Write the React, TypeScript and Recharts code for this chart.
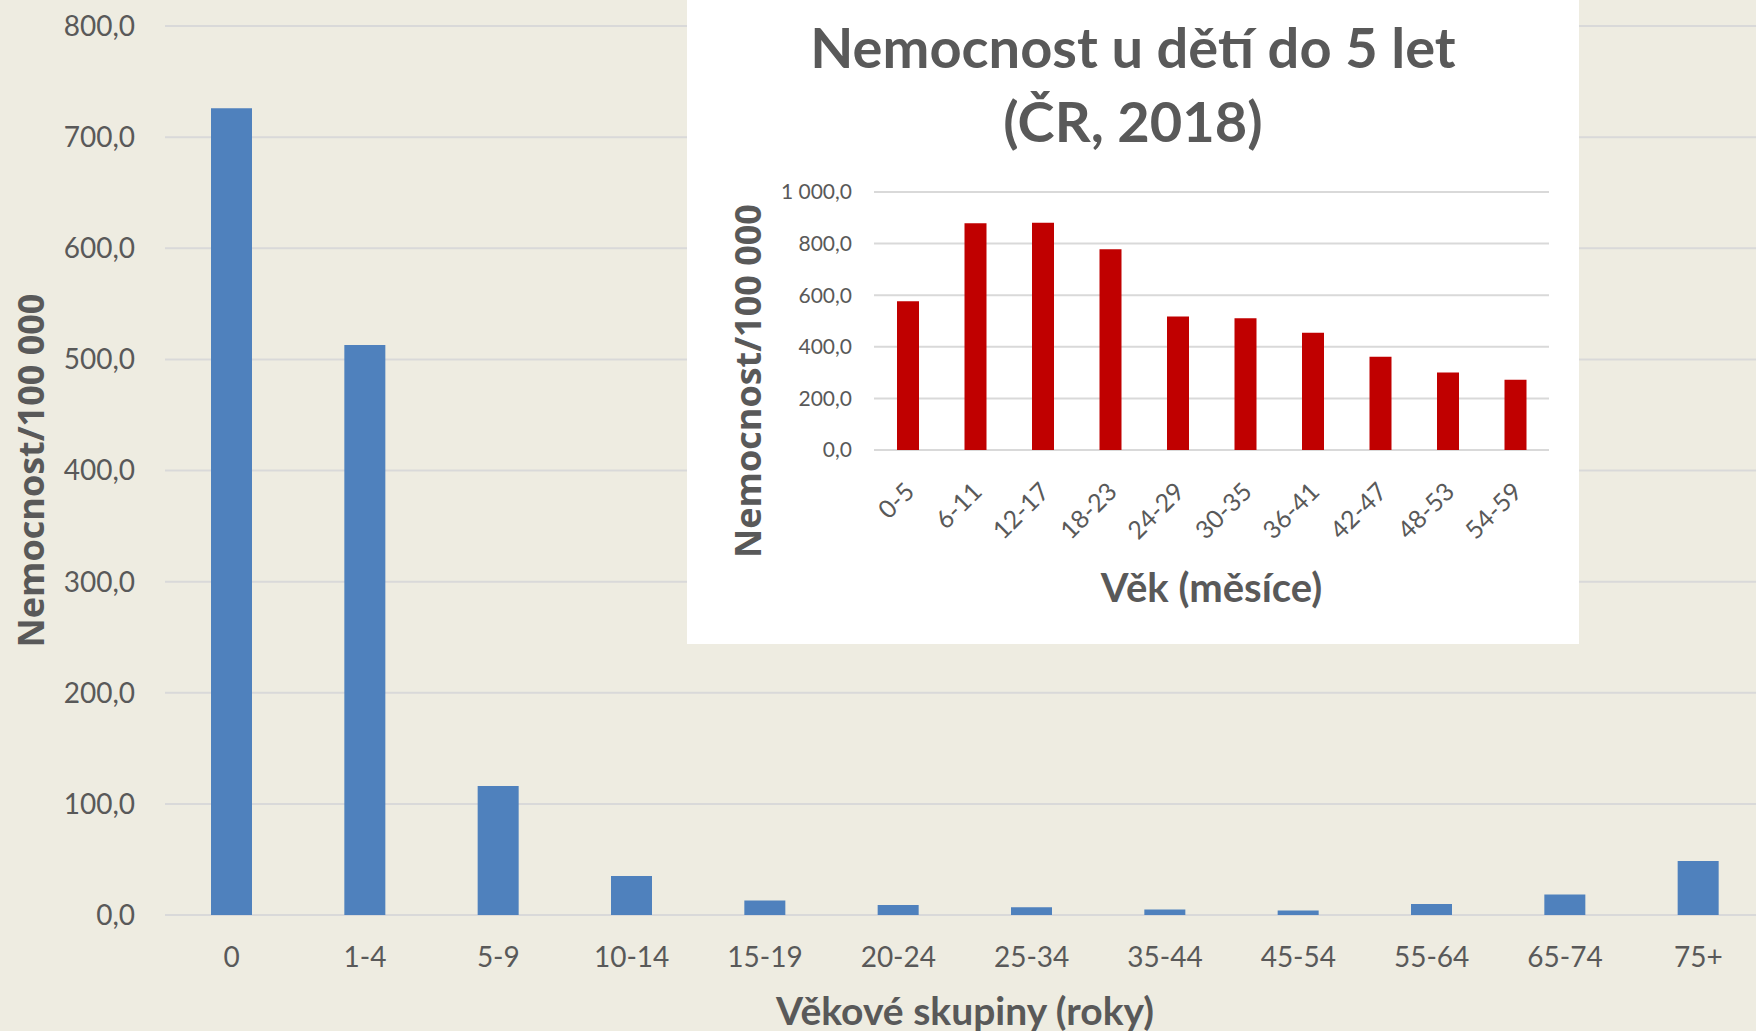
import React from 'react';
import { BarChart, Bar, XAxis, YAxis, CartesianGrid, Label } from 'recharts';

// main chart: rate per 100 000 by age group (years)
const ageGroups = ['0', '1-4', '5-9', '10-14', '15-19', '20-24', '25-34', '35-44', '45-54', '55-64', '65-74', '75+'];
const ageRates = [726, 513, 116, 35, 13, 9, 7, 5, 4, 10, 18.5, 48.5];
const ageTicks = [0, 100, 200, 300, 400, 500, 600, 700, 800];

// inset: children under 5, by age in months
const monthGroups = ['0-5', '6-11', '12-17', '18-23', '24-29', '30-35', '36-41', '42-47', '48-53', '54-59'];
const monthRates = [577, 879, 881, 778, 517, 511, 454, 361, 300, 272];
const monthTicks = [0, 200, 400, 600, 800, 1000];

const TEXT = '#595959';
const GRID = '#D9D9D9';
const FONT = 'Lato, "Open Sans", sans-serif';

const fmt = (v: number) => {
  const [int, dec] = v.toFixed(1).split('.');
  return int.replace(/\B(?=(\d{3})+(?!\d))/g, ' ') + ',' + dec;
};

const VerticalTitle = (shiftX: number, shiftY: number, text: string) => (props: any) => {
  const vb = props.viewBox || { x: 0, y: 0, width: 0, height: 0 };
  const cx = vb.x + shiftX;
  const cy = vb.y + vb.height / 2 + shiftY;
  return (
    <text
      x={cx}
      y={cy}
      transform={`rotate(-90 ${cx} ${cy})`}
      textAnchor="middle"
      dominantBaseline="central"
      fill={TEXT}
      fontFamily='"Open Sans", sans-serif'
      fontWeight={700}
      fontSize={36}
    >
      {text}
    </text>
  );
};

const MonthTick = (props: any) => {
  const { x, y, payload } = props;
  const tx = x + 2;
  const ty = y + 27;
  return (
    <text
      x={tx}
      y={ty}
      dy="0.35em"
      textAnchor="end"
      transform={`rotate(-45 ${tx} ${ty})`}
      fill={TEXT}
      fontFamily={FONT}
      fontSize={25}
    >
      {payload.value}
    </text>
  );
};

const App = () => {
  const ageData = ageGroups.map((g, i) => ({ group: g, rate: ageRates[i] }));
  const monthData = monthGroups.map((g, i) => ({ group: g, rate: monthRates[i] }));

  return (
    <div
      style={{
        position: 'absolute',
        left: 0,
        top: 0,
        width: 1756,
        height: 1031,
        overflow: 'hidden',
        background: '#EEECE1',
      }}
    >
      <BarChart
        width={1780}
        height={1031}
        data={ageData}
        margin={{ top: 26, right: 15, bottom: 0, left: 0 }}
        barSize={41}
      >
        <CartesianGrid vertical={false} stroke={GRID} strokeWidth={2} />
        <XAxis
          dataKey="group"
          interval={0}
          height={116}
          axisLine={false}
          tickLine={false}
          tickSize={0}
          tickMargin={32}
          tick={{ fill: TEXT, fontSize: 28, fontFamily: FONT }}
        >
          <Label
            value="Věkové skupiny (roky)"
            position="insideBottom"
            offset={6}
            style={{ fill: TEXT, fontSize: 39, fontWeight: 700, fontFamily: FONT }}
          />
        </XAxis>
        <YAxis
          width={165}
          domain={[0, 800]}
          ticks={ageTicks}
          axisLine={false}
          tickLine={false}
          tickSize={0}
          tickMargin={30}
          tickFormatter={fmt}
          tick={{ fill: TEXT, fontSize: 28, fontFamily: FONT }}
        >
          <Label content={VerticalTitle(30, 0, 'Nemocnost/100 000')} />
        </YAxis>
        <Bar dataKey="rate" fill="#4F81BD" isAnimationActive={false} />
      </BarChart>

      <div
        style={{
          position: 'absolute',
          left: 687,
          top: 0,
          width: 892,
          height: 644,
          background: '#FFFFFF',
        }}
      >
        <div
          style={{
            position: 'absolute',
            left: 0,
            top: 10,
            width: 892,
            textAlign: 'center',
            fontFamily: FONT,
            fontWeight: 700,
            fontSize: 56,
            lineHeight: '74px',
            color: TEXT,
          }}
        >
          Nemocnost u dětí do 5 let
          <br />
          (ČR, 2018)
        </div>
        <div style={{ position: 'absolute', left: 0, top: 0 }}>
          <BarChart
            width={892}
            height={644}
            data={monthData}
            margin={{ top: 192, right: 30, bottom: 0, left: 0 }}
            barSize={22}
          >
            <CartesianGrid vertical={false} stroke={GRID} strokeWidth={2} />
            <XAxis
              dataKey="group"
              interval={0}
              height={194}
              axisLine={false}
              tickLine={false}
              tickSize={0}
              tickMargin={10}
              tick={<MonthTick />}
            >
              <Label
                value="Věk (měsíce)"
                position="insideBottom"
                offset={42}
                style={{ fill: TEXT, fontSize: 40, fontWeight: 700, fontFamily: FONT }}
              />
            </XAxis>
            <YAxis
              width={187}
              domain={[0, 1000]}
              ticks={monthTicks}
              axisLine={false}
              tickLine={false}
              tickSize={0}
              tickMargin={22}
              tickFormatter={fmt}
              tick={{ fill: TEXT, fontSize: 21, fontFamily: FONT }}
            >
              <Label content={VerticalTitle(60, 60, 'Nemocnost/100 000')} />
            </YAxis>
            <Bar dataKey="rate" fill="#C00000" isAnimationActive={false} />
          </BarChart>
        </div>
      </div>
    </div>
  );
};

export default App;
